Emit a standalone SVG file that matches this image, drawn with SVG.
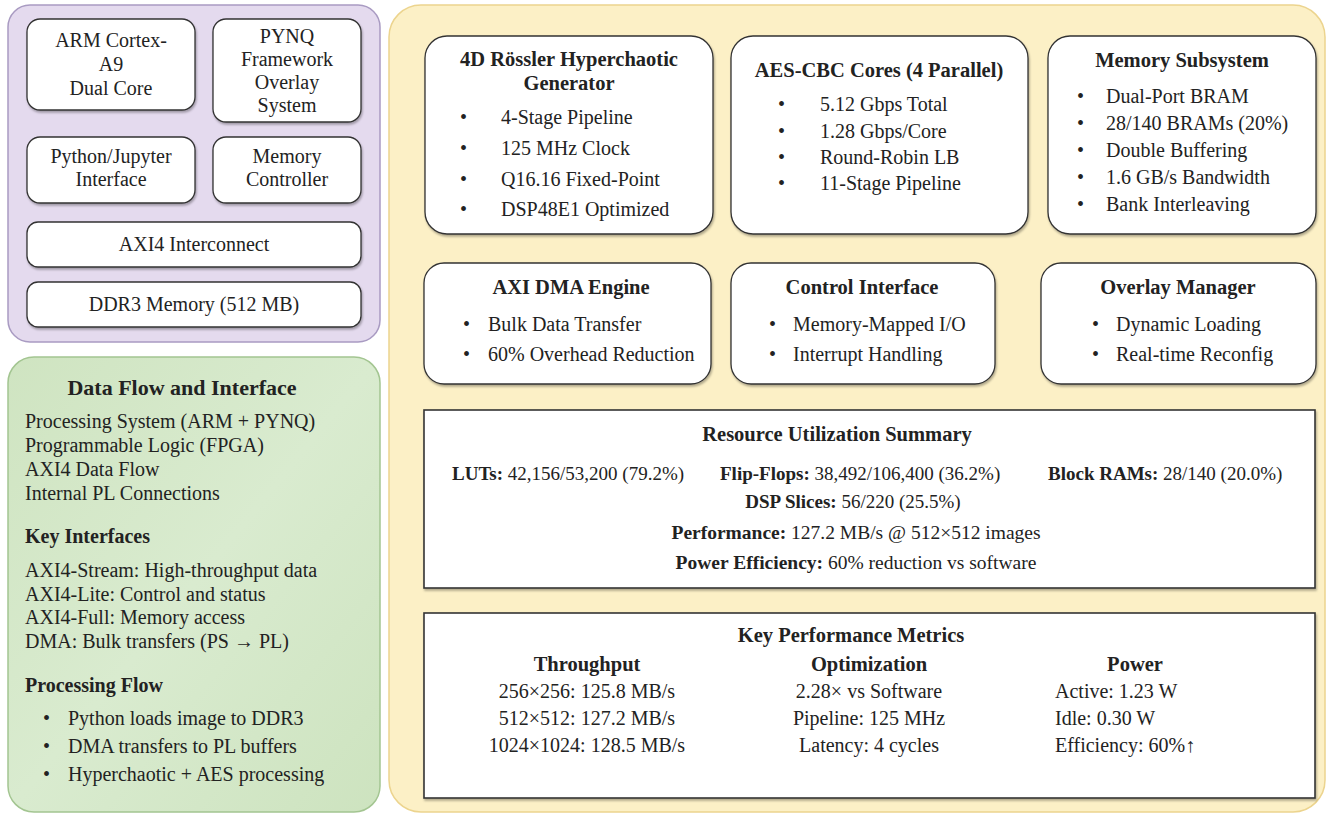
<svg xmlns="http://www.w3.org/2000/svg" width="1330" height="817" viewBox="0 0 1330 817">
<style>
text{font-family:"Liberation Serif","Times New Roman",serif;fill:#222;font-size:20px}
.b{font-weight:bold}
.t{font-weight:bold;font-size:20.5px}
.c{text-anchor:middle}
.s{font-size:19px}
.box{fill:#fff;stroke:#333;stroke-width:1.3}
.sq{fill:#fff;stroke:#333;stroke-width:1.6}
</style>
<defs>
<filter id="sh" x="-10%" y="-10%" width="120%" height="130%">
<feDropShadow dx="1" dy="2" stdDeviation="1.2" flood-color="#000" flood-opacity="0.3"/>
</filter>
<linearGradient id="gg" x1="0" y1="0" x2="1" y2="1">
<stop offset="0" stop-color="#cfe4c1"/>
<stop offset="0.5" stop-color="#d9ebcf"/>
<stop offset="1" stop-color="#cde3bf"/>
</linearGradient>
</defs>
<rect width="1330" height="817" fill="#fff"/>

<g id="ps-panel">
<rect x="8" y="5" width="372" height="337" rx="22" fill="#e4daee" stroke="#a99bc2" stroke-width="1.5"/>
</g>
<g id="arm">
<rect class="box" filter="url(#sh)" x="27" y="19" width="168" height="91" rx="13"/>
<text class="c" x="111" y="47">ARM Cortex-</text>
<text class="c" x="111" y="71">A9</text>
<text class="c" x="111" y="95">Dual Core</text>
</g>
<g id="pynq">
<rect class="box" filter="url(#sh)" x="213" y="19" width="148" height="103" rx="13"/>
<text class="c" x="287" y="43">PYNQ</text>
<text class="c" x="287" y="66">Framework</text>
<text class="c" x="287" y="89">Overlay</text>
<text class="c" x="287" y="112">System</text>
</g>
<g id="python">
<rect class="box" filter="url(#sh)" x="27" y="137" width="168" height="66" rx="13"/>
<text class="c" x="111" y="163">Python/Jupyter</text>
<text class="c" x="111" y="186">Interface</text>
</g>
<g id="memctrl">
<rect class="box" filter="url(#sh)" x="213" y="137" width="148" height="66" rx="13"/>
<text class="c" x="287" y="163">Memory</text>
<text class="c" x="287" y="186">Controller</text>
</g>
<g id="axi4">
<rect class="box" filter="url(#sh)" x="27" y="222" width="334" height="45" rx="11"/>
<text class="c" x="194" y="251">AXI4 Interconnect</text>
</g>
<g id="ddr3">
<rect class="box" filter="url(#sh)" x="27" y="282" width="334" height="45" rx="11"/>
<text class="c" x="194" y="311">DDR3 Memory (512 MB)</text>
</g>

<g id="legend">
<rect x="8" y="357" width="372" height="455" rx="26" fill="url(#gg)" stroke="#a3c591" stroke-width="1.5"/>
<text class="b c" x="182" y="395" style="font-size:22px">Data Flow and Interface</text>
<text x="25" y="428">Processing System (ARM + PYNQ)</text>
<text x="25" y="452">Programmable Logic (FPGA)</text>
<text x="25" y="476">AXI4 Data Flow</text>
<text x="25" y="500">Internal PL Connections</text>
<text class="b" x="25" y="543">Key Interfaces</text>
<text x="25" y="577">AXI4-Stream: High-throughput data</text>
<text x="25" y="601">AXI4-Lite: Control and status</text>
<text x="25" y="624">AXI4-Full: Memory access</text>
<text x="25" y="648">DMA: Bulk transfers (PS → PL)</text>
<text class="b" x="25" y="692">Processing Flow</text>
<text x="43" y="725">•</text><text x="68" y="725">Python loads image to DDR3</text>
<text x="43" y="753">•</text><text x="68" y="753">DMA transfers to PL buffers</text>
<text x="43" y="781">•</text><text x="68" y="781">Hyperchaotic + AES processing</text>
</g>

<g id="pl-panel">
<rect x="389" y="5" width="936" height="807" rx="32" fill="#fcf0c6" stroke="#ecd48e" stroke-width="1.5"/>
</g>

<g id="rossler">
<rect class="box" filter="url(#sh)" x="425" y="36" width="288" height="198" rx="22"/>
<text class="t c" x="569" y="66">4D Rössler Hyperchaotic</text>
<text class="t c" x="569" y="90">Generator</text>
<text x="460" y="124">•</text><text x="501" y="124">4-Stage Pipeline</text>
<text x="460" y="155">•</text><text x="501" y="155">125 MHz Clock</text>
<text x="460" y="186">•</text><text x="501" y="186">Q16.16 Fixed-Point</text>
<text x="460" y="216">•</text><text x="501" y="216">DSP48E1 Optimized</text>
</g>
<g id="aes">
<rect class="box" filter="url(#sh)" x="731" y="36" width="297" height="198" rx="22"/>
<text class="t c" x="879" y="77">AES-CBC Cores (4 Parallel)</text>
<text x="778" y="111">•</text><text x="820" y="111">5.12 Gbps Total</text>
<text x="778" y="138">•</text><text x="820" y="138">1.28 Gbps/Core</text>
<text x="778" y="164">•</text><text x="820" y="164">Round-Robin LB</text>
<text x="778" y="190">•</text><text x="820" y="190">11-Stage Pipeline</text>
</g>
<g id="memsub">
<rect class="box" filter="url(#sh)" x="1048" y="36" width="268" height="198" rx="22"/>
<text class="t c" x="1182" y="67">Memory Subsystem</text>
<text x="1077" y="103">•</text><text x="1106" y="103">Dual-Port BRAM</text>
<text x="1077" y="130">•</text><text x="1106" y="130">28/140 BRAMs (20%)</text>
<text x="1077" y="157">•</text><text x="1106" y="157">Double Buffering</text>
<text x="1077" y="184">•</text><text x="1106" y="184">1.6 GB/s Bandwidth</text>
<text x="1077" y="211">•</text><text x="1106" y="211">Bank Interleaving</text>
</g>

<g id="dma">
<rect class="box" filter="url(#sh)" x="424" y="263" width="287" height="121" rx="20"/>
<text class="t c" x="571" y="294">AXI DMA Engine</text>
<text x="463" y="331">•</text><text x="488" y="331">Bulk Data Transfer</text>
<text x="463" y="361">•</text><text x="488" y="361">60% Overhead Reduction</text>
</g>
<g id="control">
<rect class="box" filter="url(#sh)" x="731" y="263" width="264" height="121" rx="20"/>
<text class="t c" x="862" y="294">Control Interface</text>
<text x="769" y="331">•</text><text x="793" y="331">Memory-Mapped I/O</text>
<text x="769" y="361">•</text><text x="793" y="361">Interrupt Handling</text>
</g>
<g id="overlay">
<rect class="box" filter="url(#sh)" x="1041" y="263" width="275" height="121" rx="20"/>
<text class="t c" x="1178" y="294">Overlay Manager</text>
<text x="1092" y="331">•</text><text x="1116" y="331">Dynamic Loading</text>
<text x="1092" y="361">•</text><text x="1116" y="361">Real-time Reconfig</text>
</g>

<g id="resources">
<rect class="sq" filter="url(#sh)" x="424" y="410" width="891" height="178"/>
<text class="t c" x="837" y="441">Resource Utilization Summary</text>
<text class="s" x="452" y="480"><tspan class="b">LUTs:</tspan> 42,156/53,200 (79.2%)</text>
<text class="s" x="720" y="480"><tspan class="b">Flip-Flops:</tspan> 38,492/106,400 (36.2%)</text>
<text class="s" x="1048" y="480"><tspan class="b">Block RAMs:</tspan> 28/140 (20.0%)</text>
<text class="s c" x="853" y="508"><tspan class="b">DSP Slices:</tspan> 56/220 (25.5%)</text>
<text class="c" x="856" y="539" style="font-size:19.5px"><tspan class="b">Performance:</tspan> 127.2 MB/s @ 512×512 images</text>
<text class="c" x="856" y="569" style="font-size:19.5px"><tspan class="b">Power Efficiency:</tspan> 60% reduction vs software</text>
</g>

<g id="metrics">
<rect class="sq" filter="url(#sh)" x="424" y="613" width="891" height="185"/>
<text class="t c" x="851" y="642">Key Performance Metrics</text>
<text class="t c" x="587" y="671">Throughput</text>
<text class="c" x="587" y="698">256×256: 125.8 MB/s</text>
<text class="c" x="587" y="725">512×512: 127.2 MB/s</text>
<text class="c" x="587" y="752">1024×1024: 128.5 MB/s</text>
<text class="t c" x="869" y="671">Optimization</text>
<text class="c" x="869" y="698">2.28× vs Software</text>
<text class="c" x="869" y="725">Pipeline: 125 MHz</text>
<text class="c" x="869" y="752">Latency: 4 cycles</text>
<text class="t c" x="1135" y="671">Power</text>
<text x="1055" y="698">Active: 1.23 W</text>
<text x="1055" y="725">Idle: 0.30 W</text>
<text x="1055" y="752">Efficiency: 60%↑</text>
</g>
</svg>
